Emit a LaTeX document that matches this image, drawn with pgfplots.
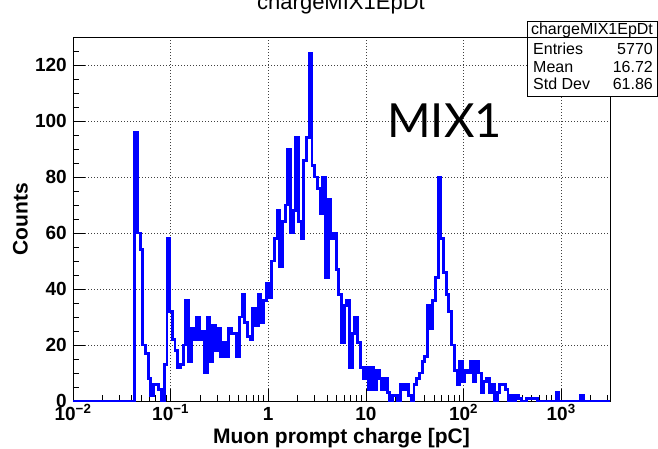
\documentclass[border=0pt]{standalone}
\usepackage{fontspec}
\setmainfont{Liberation Sans}
\newfontfamily\mixfont{Lato}
\usepackage{pgfplots}
\usepackage{pgfplotstable}
\pgfplotsset{compat=1.18}

% Histogram of the muon prompt charge: lx = log10 of the left bin edge [pC], n = counts
\pgfplotstableread{
lx n
-2 0
-1.3675 96
-1.34 60
-1.3125 54
-1.285 20
-1.2575 17
-1.23 8
-1.2025 2
-1.175 6
-1.1475 6
-1.12 4
-1.0925 0
-1.065 13
-1.0375 58
-1.01 32
-0.9825 22
-0.955 18
-0.9275 12
-0.9 13
-0.8725 20
-0.845 36
-0.8175 14
-0.79 26
-0.7625 22
-0.735 30
-0.7075 22
-0.68 25
-0.6525 10
-0.625 30
-0.5975 14
-0.57 27
-0.5425 18
-0.515 26
-0.4875 16
-0.46 21
-0.4325 16
-0.405 26
-0.3775 24
-0.35 24
-0.3225 16
-0.295 30
-0.2675 38
-0.24 28
-0.2125 23
-0.185 22
-0.1575 33
-0.13 27
-0.1025 38
-0.075 28
-0.0475 36
-0.02 42
0.0075 37
0.035 50
0.0625 58
0.09 68
0.1175 48
0.145 64
0.1725 70
0.2 90
0.2275 60
0.255 68
0.2825 94
0.31 64
0.3375 58
0.365 86
0.3925 94
0.42 124
0.4475 84
0.475 80
0.5025 76
0.53 67
0.5575 80
0.585 44
0.6125 72
0.64 58
0.6675 60
0.695 47
0.7225 38
0.75 21
0.7775 34
0.805 36
0.8325 12
0.86 24
0.8875 30
0.915 21
0.9425 12
0.97 8
0.9975 12
1.025 4
1.0525 12
1.08 4
1.1075 11
1.135 8
1.1625 4
1.19 8
1.2175 3
1.245 0
1.2725 2
1.3 2
1.3275 0
1.355 6
1.3825 4
1.41 6
1.4375 2
1.465 0
1.4925 6
1.52 8
1.5475 10
1.575 14
1.6025 16
1.63 34
1.6575 26
1.685 36
1.7125 44
1.74 80
1.7675 58
1.795 46
1.8225 38
1.85 32
1.8775 20
1.905 11
1.9325 6
1.96 14
1.9875 7
2.015 11
2.0425 10
2.07 14
2.0975 7
2.125 14
2.1525 10
2.18 3
2.2075 7
2.235 8
2.2625 3
2.29 6
2.3175 0
2.345 3
2.3725 6
2.4 6
2.4275 4
2.455 0
2.4825 2
2.51 0
2.5375 2
2.565 1
2.5925 0
2.6475 1
2.7575 0
2.95 3
2.9775 0
3.1975 2
3.225 0
3.5 0
}\chargehist

\begin{document}
\begin{tikzpicture}
\path[use as bounding box] (0pt,0pt) rectangle (658pt,448pt);
\fill[white] (0pt,0pt) rectangle (658pt,448pt);

\begin{axis}[
  at={(73pt,47pt)}, anchor=south west,
  scale only axis, width=537pt, height=364pt,
  xmin=-2, xmax=3.5, ymin=0, ymax=130,
  axis line style={black, line width=0.9pt},
  xtick={-2,-1,0,1,2,3},
  xticklabels={10\textsuperscript{−2},10\textsuperscript{−1},1,10,10\textsuperscript{2},10\textsuperscript{3}},
  minor xtick={-1.69897,-1.52288,-1.39794,-1.30103,-1.22185,-1.15490,-1.09691,-1.04576,
               -0.69897,-0.52288,-0.39794,-0.30103,-0.22185,-0.15490,-0.09691,-0.04576,
               0.30103,0.47712,0.60206,0.69897,0.77815,0.84510,0.90309,0.95424,
               1.30103,1.47712,1.60206,1.69897,1.77815,1.84510,1.90309,1.95424,
               2.30103,2.47712,2.60206,2.69897,2.77815,2.84510,2.90309,2.95424,
               3.30103,3.47712},
  ytick={0,20,...,120},
  yticklabels={0,20,40,60,80,100,120},
  minor ytick={5,10,15,25,30,35,45,50,55,65,70,75,85,90,95,105,110,115,125},
  tick align=inside,
  xtick pos=bottom, ytick pos=left,
  major tick length=12pt, minor tick length=6pt,
  every tick/.style={black, line width=0.8pt},
  grid=major,
  major grid style={black!75, line width=0.7pt, dash pattern=on 1pt off 2pt},
  xticklabel style={font=\fontsize{19}{19}\selectfont\bfseries, anchor=base, inner sep=0pt, yshift=-19pt},
  yticklabel style={font=\fontsize{19}{19}\selectfont\bfseries, anchor=east, inner sep=0pt, xshift=-6pt},
  xlabel={Muon prompt charge [pC]},
  xlabel style={font=\fontsize{21}{21}\selectfont\bfseries, at={(axis description cs:0.5,-0.1154)}, anchor=base, inner sep=0pt},
  ylabel={Counts},
  ylabel style={font=\fontsize{21}{21}\selectfont\bfseries, at={(axis description cs:-0.0847,0.5)}, anchor=base, inner sep=0pt},
]
\addplot[const plot mark left, blue, line width=2.9pt, no marks] table[x=lx, y=n] {\chargehist};
\end{axis}

% histogram title, partly above the page edge
\node[anchor=base, inner sep=0pt, font=\fontsize{22}{22}\selectfont] at (341pt,438.5pt) {chargeMIX1EpDt};

% statistics box
\draw[black, line width=0.8pt, fill=white] (527pt,352pt) rectangle (657pt,427pt);
\draw[black, line width=0.8pt] (527pt,411pt) -- (657pt,411pt);
\begin{scope}[every node/.style={inner sep=0pt, font=\fontsize{16}{16}\selectfont}]
\node[anchor=base] at (592pt,413pt) {chargeMIX1EpDt};
\node[anchor=base west] at (533pt,393.5pt) {Entries};
\node[anchor=base east] at (653pt,393.5pt) {5770};
\node[anchor=base west] at (533pt,375.5pt) {Mean};
\node[anchor=base east] at (653pt,375.5pt) {16.72};
\node[anchor=base west] at (533pt,358pt) {Std Dev};
\node[anchor=base east] at (653pt,358pt) {61.86};
\end{scope}

\node[anchor=base west, inner sep=0pt, font=\mixfont\fontsize{47}{47}\selectfont] at (387pt,311pt) {MIX1};
\end{tikzpicture}
\end{document}
